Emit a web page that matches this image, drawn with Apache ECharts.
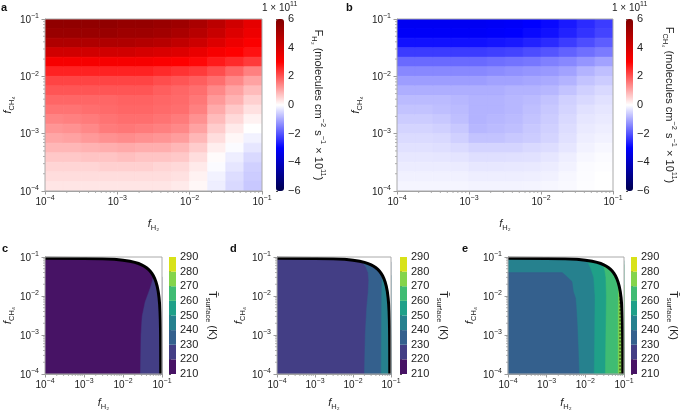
<!DOCTYPE html>
<html><head><meta charset="utf-8">
<script src="https://cdn.jsdelivr.net/npm/echarts@6/dist/echarts.min.js"></script>
<style>html,body{margin:0;padding:0;background:#fff}#c{width:685px;height:412px}</style>
</head><body><div id="c"></div>
<script>
// ================= DATA =================
const tickExponents = ['−4', '−3', '−2', '−1'];
// cell edges (data space) for the flux maps
const fH2Edges = [1e-4, 1.778e-4, 3.162e-4, 5.623e-4, 1e-3, 1.778e-3, 3.162e-3, 5.623e-3, 1e-2, 1.778e-2, 3.162e-2, 5.623e-2, 1e-1];
const fCH4Edges = [1e-1, 6.813e-2, 4.642e-2, 3.162e-2, 2.154e-2, 1.468e-2, 1e-2, 6.813e-3, 4.642e-3, 3.162e-3, 2.154e-3, 1.468e-3, 1e-3, 6.813e-4, 4.642e-4, 3.162e-4, 2.154e-4, 1.468e-4, 1e-4];
// F_H2 (x 1e11), rows top (high f_CH4) -> bottom, cols left (low f_H2) -> right
const fluxH2 = [
  [5.6, 5.6, 5.6, 5.6, 5.5, 5.5, 5.4, 5.3, 5.0, 4.6, 4.1, 3.6],
  [5.4, 5.4, 5.4, 5.4, 5.3, 5.3, 5.2, 5.0, 4.7, 4.3, 3.8, 3.4],
  [4.9, 4.9, 4.9, 4.9, 4.9, 4.8, 4.7, 4.5, 4.2, 3.8, 3.4, 3.1],
  [4.1, 4.1, 4.1, 4.1, 4.1, 4.0, 3.9, 3.8, 3.5, 3.2, 3.0, 2.8],
  [3.2, 3.2, 3.2, 3.2, 3.2, 3.2, 3.1, 3.0, 2.9, 2.7, 2.5, 2.3],
  [2.6, 2.6, 2.6, 2.6, 2.6, 2.6, 2.5, 2.4, 2.3, 2.1, 1.8, 1.5],
  [2.2, 2.2, 2.2, 2.2, 2.2, 2.2, 2.1, 2.0, 1.9, 1.7, 1.4, 1.1],
  [2.0, 2.0, 2.0, 2.0, 2.0, 2.0, 1.9, 1.8, 1.7, 1.4, 1.1, 0.8],
  [1.8, 1.8, 1.8, 1.8, 1.85, 1.85, 1.8, 1.75, 1.6, 1.2, 0.9, 0.55],
  [1.65, 1.65, 1.7, 1.75, 1.8, 1.8, 1.75, 1.7, 1.5, 1.0, 0.65, 0.35],
  [1.45, 1.5, 1.55, 1.65, 1.7, 1.7, 1.65, 1.55, 1.3, 0.8, 0.45, 0.15],
  [1.25, 1.3, 1.4, 1.55, 1.6, 1.55, 1.5, 1.4, 1.1, 0.6, 0.25, 0.0],
  [1.05, 1.1, 1.2, 1.3, 1.35, 1.3, 1.25, 1.15, 0.85, 0.4, 0.1, -0.15],
  [0.85, 0.85, 0.9, 0.95, 1.0, 0.95, 0.95, 0.85, 0.6, 0.2, -0.05, -0.3],
  [0.65, 0.65, 0.7, 0.7, 0.75, 0.7, 0.7, 0.65, 0.4, 0.05, -0.2, -0.45],
  [0.5, 0.5, 0.5, 0.55, 0.55, 0.55, 0.5, 0.45, 0.25, -0.05, -0.3, -0.55],
  [0.4, 0.4, 0.4, 0.4, 0.4, 0.4, 0.4, 0.35, 0.15, -0.15, -0.4, -0.6],
  [0.3, 0.3, 0.3, 0.3, 0.3, 0.3, 0.3, 0.25, 0.1, -0.2, -0.45, -0.65]
];
// F_CH4 (x 1e11)
const fluxCH4 = [
  [-3.2, -3.2, -3.2, -3.2, -3.2, -3.15, -3.1, -3.0, -2.9, -2.7, -2.5, -2.3],
  [-3.1, -3.1, -3.1, -3.1, -3.1, -3.05, -3.0, -2.9, -2.8, -2.6, -2.4, -2.2],
  [-2.8, -2.8, -2.8, -2.8, -2.8, -2.75, -2.7, -2.6, -2.5, -2.3, -2.1, -1.9],
  [-2.3, -2.3, -2.3, -2.3, -2.3, -2.25, -2.2, -2.1, -2.0, -1.85, -1.7, -1.55],
  [-1.75, -1.75, -1.75, -1.75, -1.75, -1.7, -1.65, -1.6, -1.5, -1.4, -1.25, -1.1],
  [-1.4, -1.4, -1.4, -1.4, -1.4, -1.35, -1.3, -1.25, -1.2, -1.1, -0.9, -0.75],
  [-1.15, -1.15, -1.15, -1.15, -1.15, -1.1, -1.1, -1.05, -1.0, -0.9, -0.7, -0.6],
  [-0.95, -0.95, -0.95, -0.95, -0.95, -0.95, -0.9, -0.9, -0.85, -0.7, -0.55, -0.45],
  [-0.8, -0.8, -0.8, -0.85, -0.9, -0.9, -0.85, -0.8, -0.7, -0.55, -0.45, -0.35],
  [-0.7, -0.7, -0.75, -0.8, -0.9, -0.9, -0.85, -0.75, -0.65, -0.5, -0.35, -0.3],
  [-0.6, -0.6, -0.65, -0.75, -0.9, -0.85, -0.8, -0.7, -0.6, -0.45, -0.3, -0.25],
  [-0.5, -0.5, -0.55, -0.65, -0.85, -0.8, -0.75, -0.65, -0.55, -0.4, -0.25, -0.2],
  [-0.42, -0.42, -0.45, -0.55, -0.7, -0.7, -0.65, -0.6, -0.5, -0.35, -0.2, -0.15],
  [-0.35, -0.35, -0.38, -0.42, -0.5, -0.5, -0.5, -0.45, -0.4, -0.3, -0.15, -0.1],
  [-0.28, -0.28, -0.3, -0.32, -0.38, -0.38, -0.36, -0.35, -0.3, -0.2, -0.1, -0.05],
  [-0.22, -0.22, -0.22, -0.24, -0.28, -0.28, -0.27, -0.26, -0.22, -0.15, -0.05, -0.02],
  [-0.16, -0.16, -0.16, -0.17, -0.2, -0.2, -0.2, -0.19, -0.16, -0.1, -0.03, 0],
  [-0.12, -0.12, -0.12, -0.12, -0.14, -0.14, -0.14, -0.13, -0.11, -0.07, -0.02, 0]
];
const fluxRange = [-6, 6];
const tempLevels = [210, 220, 230, 240, 250, 260, 270, 280, 290];
// limit of valid composition (black curve)
const limitCurve = [[1e-4, 0.0929], [1e-3, 0.092], [3e-3, 0.09], [6e-3, 0.087], [1e-2, 0.083], [1.5e-2, 0.078], [2e-2, 0.073], [2.5e-2, 0.068], [3e-2, 0.063], [3.5e-2, 0.058], [4e-2, 0.053], [4.5e-2, 0.048], [5e-2, 0.043], [5.5e-2, 0.038], [6e-2, 0.033], [6.5e-2, 0.028], [7e-2, 0.023], [7.5e-2, 0.018], [8e-2, 0.013], [8.4e-2, 0.009], [8.7e-2, 0.006], [8.9e-2, 0.004], [9.05e-2, 0.0025], [9.15e-2, 0.0015], [9.2e-2, 0.001], [9.25e-2, 5e-4], [9.28e-2, 2e-4], [9.29e-2, 1e-4]];
// contour boundaries (bottom -> top)
const c220Edge = [[0.028, 1e-4], [0.029, 1e-3], [0.031, 0.003], [0.037, 0.007], [0.045, 0.012], [0.052, 0.018], [0.057, 0.025], [0.06, 0.031]];
const d230Edge = [[0.02, 1e-4], [0.021, 1e-3], [0.023, 0.005], [0.025, 0.012], [0.026, 0.025], [0.025, 0.04], [0.022, 0.055], [0.019, 0.068], [0.017, 0.075]];
const d240Edge = [[0.055, 1e-4], [0.056, 1e-3], [0.057, 0.01], [0.058, 0.025], [0.058, 0.034]];
const e230Edge = [[0.0069, 1e-4], [0.0063, 1.2e-3], [0.006, 3.2e-3], [0.0056, 8.7e-3], [0.0049, 0.0129], [0.0045, 0.0234], [0.0033, 0.0316], [0.0027, 0.038], [0.0025, 0.0398]];
const e250Edge = [[0.017, 1e-4], [0.0175, 1e-3], [0.0178, 0.01], [0.0165, 0.03], [0.014, 0.05], [0.012, 0.068], [0.011, 0.081]];
const e260Edge = [[0.033, 1e-4], [0.034, 1e-3], [0.035, 0.01], [0.034, 0.03], [0.032, 0.045], [0.03, 0.055], [0.028, 0.064]];
const e270Edge = [[0.071, 1e-4], [0.071, 0.003], [0.072, 0.01], [0.073, 0.016], [0.074, 0.019]];
const eDashed = [[0.079, 1e-4], [0.079, 0.014]];

// ================= STYLE =================
const FONT = '"Liberation Sans", Arial, Helvetica, sans-serif';
const TXT = '#222';
const AX = '#9a9a9a';
const seismic = ['#00004c', '#0000ff', '#ffffff', '#ff0000', '#800000'];
const viridis8 = ['#471365', '#433e85', '#34608d', '#26818e', '#1fa088', '#3fbc73', '#84d44b', '#d8e219'];
const levelColor = lv => viridis8[tempLevels.indexOf(lv)];
const XMIN = 1e-4, XMAX = 0.1;

const L = {
  a: {left: 45, top: 19, width: 217, height: 172}, acb: {left: 276, top: 19, width: 8, height: 172},
  b: {left: 397, top: 19, width: 216, height: 172}, bcb: {left: 626, top: 19, width: 7, height: 172},
  c: {left: 45, top: 257, width: 117, height: 117}, ccb: {left: 169, top: 257, width: 7, height: 117},
  d: {left: 277, top: 257, width: 114, height: 117}, dcb: {left: 400, top: 257, width: 7, height: 117},
  e: {left: 508, top: 257, width: 116, height: 117}, ecb: {left: 631, top: 257, width: 6, height: 117}
};
const order = ['a', 'acb', 'b', 'bcb', 'c', 'ccb', 'd', 'dcb', 'e', 'ecb'];
const gi = k => order.indexOf(k);

const labelRich = {
  b: {fontSize: 10, fontFamily: FONT, color: TXT, verticalAlign: 'bottom'},
  s: {fontSize: 7, fontFamily: FONT, color: TXT, verticalAlign: 'bottom', padding: [0, 0, 5, 0]}
};
const nameRich = {
  i: {fontSize: 11, fontFamily: FONT, fontStyle: 'italic', color: TXT, verticalAlign: 'bottom', padding: [0, 0, 3, 0]},
  sub: {fontSize: 7.5, fontFamily: FONT, color: TXT, verticalAlign: 'bottom'}
};
const cbRich = {
  n: {fontSize: 11, fontFamily: FONT, color: TXT, verticalAlign: 'bottom', padding: [0, 0, 3, 0]},
  sub: {fontSize: 7.5, fontFamily: FONT, color: TXT, verticalAlign: 'bottom'},
  sup: {fontSize: 7.5, fontFamily: FONT, color: TXT, verticalAlign: 'bottom', padding: [0, 0, 9, 0]}
};
const expLabel = v => '{b|10}{s|' + tickExponents[Math.round(Math.log10(v)) + 4] + '}';

function mainX(k, name, gap) {
  return {
    type: 'log', logBase: 10, gridIndex: gi(k), min: XMIN, max: XMAX,
    axisLine: {lineStyle: {color: AX, width: 1}}, axisTick: {length: 3.5, lineStyle: {color: AX}},
    splitLine: {show: false},
    axisLabel: {formatter: expLabel, margin: 4, rich: labelRich},
    name: name, nameLocation: 'middle', nameGap: gap, nameTextStyle: {rich: nameRich}
  };
}
function mainY(k, name, gap) {
  return {
    type: 'log', logBase: 10, gridIndex: gi(k), min: XMIN, max: XMAX,
    axisLine: {lineStyle: {color: AX, width: 1}}, axisTick: {length: 3.5, lineStyle: {color: AX}},
    splitLine: {show: false},
    axisLabel: {formatter: expLabel, margin: 6, rich: labelRich},
    name: name, nameLocation: 'middle', nameGap: gap, nameTextStyle: {rich: nameRich}
  };
}
function cbX(k) { return {type: 'value', gridIndex: gi(k), min: 0, max: 1, show: false}; }
function cbY(k, min, max, interval, name, gap) {
  return {
    type: 'value', gridIndex: gi(k), min: min, max: max, interval: interval, position: 'right',
    axisLine: {show: false}, axisTick: {show: true, length: 2, lineStyle: {color: '#555'}},
    splitLine: {show: false},
    axisLabel: {margin: 4, fontSize: 11, fontFamily: FONT, color: TXT, formatter: v => String(v).replace('-', '−')},
    name: name, nameLocation: 'middle', nameRotate: -90, nameGap: gap, nameTextStyle: {rich: cbRich}
  };
}

const xName = '{i|f}{sub|H₂}';
const yName = '{i|f}{sub|CH₄}';
const aCbName = '{n|F}{sub|H₂}{n| (molecules cm}{sup|−2}{n| s}{sup|−1}{n| × 10}{sup|11}{n|)}';
const bCbName = '{n|F}{sub|CH₄}{n| (molecules cm}{sup|−2}{n| s}{sup|−1}{n| × 10}{sup|11}{n|)}';
const tCbName = '{n|T\u0304}{sub|surface}{n| (K)}';

const grids = order.map(k => Object.assign({show: /cb$/.test(k) ? false : true, z: 10, borderColor: '#aaa', borderWidth: 1, backgroundColor: 'transparent'}, L[k]));

const xAxes = [
  mainX('a', xName, 27), cbX('acb'), mainX('b', xName, 27), cbX('bcb'),
  mainX('c', xName, 23), cbX('ccb'), mainX('d', xName, 23), cbX('dcb'), mainX('e', xName, 23), cbX('ecb')
];
const yAxes = [
  mainY('a', yName, 26), cbY('acb', fluxRange[0], fluxRange[1], 2, aCbName, 26),
  mainY('b', yName, 33), cbY('bcb', fluxRange[0], fluxRange[1], 2, bCbName, 28),
  mainY('c', yName, 27), cbY('ccb', tempLevels[0], tempLevels[tempLevels.length - 1], 10, tCbName, 28),
  mainY('d', yName, 30), cbY('dcb', tempLevels[0], tempLevels[tempLevels.length - 1], 10, tCbName, 28),
  mainY('e', yName, 30), cbY('ecb', tempLevels[0], tempLevels[tempLevels.length - 1], 10, tCbName, 28)
];

function cellData(rows) {
  const d = [];
  for (let r = 0; r < rows.length; r++)
    for (let c = 0; c < rows[r].length; c++)
      d.push([fH2Edges[c], fH2Edges[c + 1], fCH4Edges[r + 1], fCH4Edges[r], rows[r][c]]);
  return d;
}
function renderCell(params, api) {
  const p0 = api.coord([api.value(0), api.value(3)]);
  const p1 = api.coord([api.value(1), api.value(2)]);
  const col = api.visual('color');
  return {type: 'rect', shape: {x: p0[0], y: p0[1], width: p1[0] - p0[0], height: p1[1] - p0[1]},
    style: {fill: col, stroke: col, lineWidth: 0.8}};
}
const frameBox = [[XMIN, XMIN], [XMAX, XMIN], [XMAX, XMAX], [XMIN, XMAX]];
function makeRegionRender(panel) {
  return function (params, api) {
    const P = arr => arr.map(p => api.coord(p));
    const kids = [{type: 'polygon', shape: {points: P(frameBox)}, style: {fill: levelColor(panel.base)}}];
    panel.regions.forEach(r => {
      const last = r.edge[r.edge.length - 1];
      const xs = r.side === 'right' ? XMAX : XMIN;
      kids.push({type: 'polygon', shape: {points: P(r.edge.concat([[xs, last[1]], [xs, XMIN]]))},
        style: {fill: levelColor(r.level), stroke: levelColor(r.level), lineWidth: 0.5}});
    });
    kids.push({type: 'polygon', shape: {points: P(limitCurve.concat([[XMAX, XMIN], [XMAX, XMAX], [XMIN, XMAX]]))}, style: {fill: '#fff'}});
    if (panel.dashed) kids.push({type: 'polyline', shape: {points: P(panel.dashed)}, style: {stroke: '#000', lineWidth: 0.8, lineDash: [2, 1.5], fill: null}});
    kids.push({type: 'polyline', shape: {points: P(limitCurve)}, style: {stroke: '#000', lineWidth: 3, fill: null}});
    return {type: 'group', children: kids};
  };
}
const panelC = {base: 210, regions: [{level: 220, side: 'right', edge: c220Edge}]};
const panelD = {base: 220, regions: [{level: 230, side: 'right', edge: d230Edge}, {level: 240, side: 'right', edge: d240Edge}]};
const panelE = {base: 240, regions: [{level: 230, side: 'left', edge: e230Edge}, {level: 250, side: 'right', edge: e250Edge},
  {level: 260, side: 'right', edge: e260Edge}, {level: 270, side: 'right', edge: e270Edge}], dashed: eDashed};

const minorVals = [];
[1e-4, 1e-3, 1e-2].forEach(d => [2, 3, 4, 5, 6, 7, 8, 9].forEach(m => minorVals.push(d * m)));
function renderMinor(params, api) {
  const kids = [];
  minorVals.forEach(v => {
    const px = api.coord([v, XMIN]);
    kids.push({type: 'line', shape: {x1: px[0], y1: px[1], x2: px[0], y2: px[1] + 2}, style: {stroke: AX, lineWidth: 0.8}});
    const py = api.coord([XMIN, v]);
    kids.push({type: 'line', shape: {x1: py[0] - 2, y1: py[1], x2: py[0], y2: py[1]}, style: {stroke: AX, lineWidth: 0.8}});
  });
  return {type: 'group', children: kids};
}
function renderLevelBar(params, api) {
  const p0 = api.coord([0, api.value(3)]);
  const p1 = api.coord([1, api.value(2)]);
  return {type: 'rect', shape: {x: p0[0], y: p0[1], width: p1[0] - p0[0], height: p1[1] - p0[1]},
    style: {fill: viridis8[params.dataIndex]}};
}
const levelBars = tempLevels.slice(0, -1).map((lo, i) => [0, 1, lo, tempLevels[i + 1]]);

const series = [
  {type: 'custom', name: 'FH2', xAxisIndex: gi('a'), yAxisIndex: gi('a'), data: cellData(fluxH2), encode: {x: [0, 1], y: [2, 3]}, renderItem: renderCell, clip: true, silent: true},
  {type: 'custom', name: 'FCH4', xAxisIndex: gi('b'), yAxisIndex: gi('b'), data: cellData(fluxCH4), encode: {x: [0, 1], y: [2, 3]}, renderItem: renderCell, clip: true, silent: true},
  {type: 'custom', xAxisIndex: gi('c'), yAxisIndex: gi('c'), data: [[XMIN, XMIN]], renderItem: makeRegionRender(panelC), silent: true},
  {type: 'custom', xAxisIndex: gi('d'), yAxisIndex: gi('d'), data: [[XMIN, XMIN]], renderItem: makeRegionRender(panelD), silent: true},
  {type: 'custom', xAxisIndex: gi('e'), yAxisIndex: gi('e'), data: [[XMIN, XMIN]], renderItem: makeRegionRender(panelE), silent: true}
];
['a', 'b', 'c', 'd', 'e'].forEach(k => series.push({type: 'custom', xAxisIndex: gi(k), yAxisIndex: gi(k), data: [[XMIN, XMIN]], renderItem: renderMinor, silent: true, z: 1}));
['ccb', 'dcb', 'ecb'].forEach(k => series.push({type: 'custom', xAxisIndex: gi(k), yAxisIndex: gi(k), data: levelBars, encode: {x: [0, 1], y: [2, 3]}, renderItem: renderLevelBar, silent: true}));

const letter = (t, left, top) => ({text: t, left: left, top: top, padding: 0, textStyle: {fontSize: 11, fontWeight: 'bold', fontFamily: FONT, color: '#111'}});
const scaleNote = (left) => ({text: '{n|1 × 10}{s|11}', left: left, top: 1, padding: 0,
  textStyle: {fontWeight: 'normal', rich: {n: {fontSize: 10, fontWeight: 'normal', fontFamily: FONT, color: TXT, verticalAlign: 'bottom'}, s: {fontSize: 7, fontWeight: 'normal', fontFamily: FONT, color: TXT, verticalAlign: 'bottom', padding: [0, 0, 5, 0]}}}});

const option = {
  animation: false,
  backgroundColor: '#fff',
  title: [letter('a', 1, 2), letter('b', 346, 2), letter('c', 2, 243), letter('d', 230, 243), letter('e', 462, 243), scaleNote(262), scaleNote(612)],
  grid: grids,
  xAxis: xAxes,
  yAxis: yAxes,
  visualMap: [
    {type: 'continuous', seriesIndex: 0, dimension: 4, min: fluxRange[0], max: fluxRange[1], inRange: {color: seismic},
      calculable: false, hoverLink: false, left: L.acb.left, top: L.acb.top, itemWidth: L.acb.width, itemHeight: L.acb.height, padding: 0},
    {type: 'continuous', seriesIndex: 1, dimension: 4, min: fluxRange[0], max: fluxRange[1], inRange: {color: seismic},
      calculable: false, hoverLink: false, left: L.bcb.left, top: L.bcb.top, itemWidth: L.bcb.width, itemHeight: L.bcb.height, padding: 0}
  ],
  series: series
};
const chart = echarts.init(document.getElementById('c'), null, {renderer: 'canvas'});
chart.setOption(option);
</script></body></html>
